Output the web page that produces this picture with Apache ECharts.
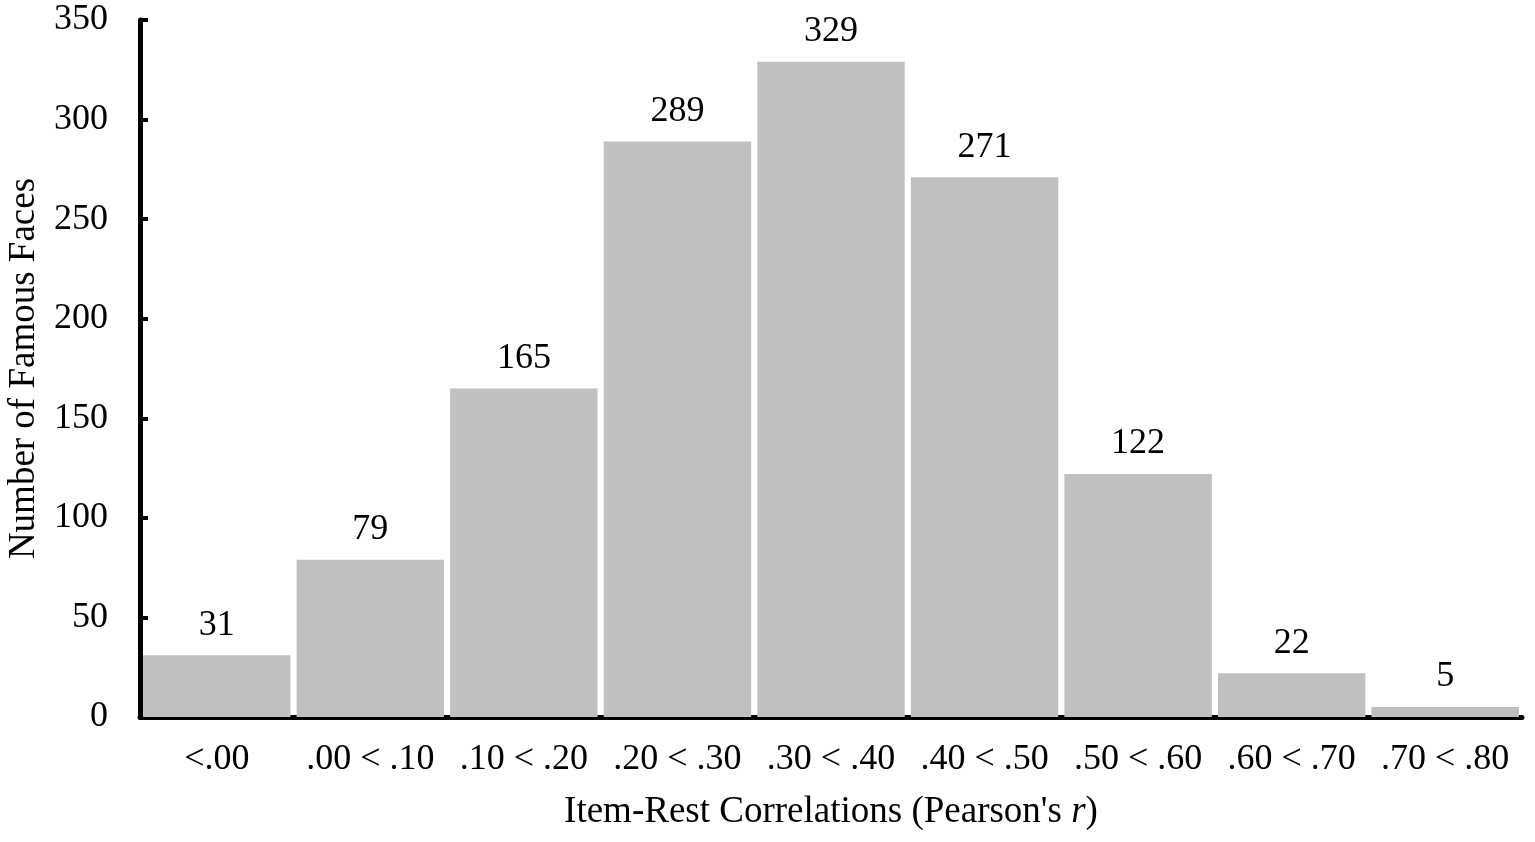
<!DOCTYPE html>
<html>
<head>
<meta charset="utf-8">
<script src="https://cdn.jsdelivr.net/npm/echarts@6/dist/echarts.min.js"></script>
<style>html,body{margin:0;padding:0;background:#fff}#c{width:1535px;height:842px}</style>
</head>
<body>
<div id="c"></div>
<script>
var categories = ['<.00', '.00 < .10', '.10 < .20', '.20 < .30', '.30 < .40', '.40 < .50', '.50 < .60', '.60 < .70', '.70 < .80'];
var counts = [31, 79, 165, 289, 329, 271, 122, 22, 5];
var yTicks = [0, 50, 100, 150, 200, 250, 300, 350];

var font = 'Liberation Serif';
var chart = echarts.init(document.getElementById('c'));
chart.setOption({
  animation: false,
  backgroundColor: '#fff',
  grid: { left: 140, right: 13, top: 20, bottom: 125, containLabel: false, outerBoundsMode: 'none' },
  xAxis: {
    type: 'category',
    data: categories,
    name: "Item-Rest Correlations (Pearson's {i|r})",
    nameLocation: 'middle',
    nameGap: 77,
    nameTextStyle: {
      fontFamily: font, fontSize: 37, color: '#000',
      rich: { i: { fontFamily: font, fontSize: 37, fontStyle: 'italic', color: '#000' } }
    },
    axisLine: { lineStyle: { color: '#000', width: 5 } },
    axisTick: { show: false },
    axisLabel: { fontFamily: font, fontSize: 36, color: '#000', margin: 25, interval: 0 },
    splitLine: { show: false }
  },
  yAxis: {
    type: 'value',
    min: 0, max: 350, interval: 50,
    name: 'Number of Famous Faces',
    nameLocation: 'middle',
    nameGap: 97,
    nameTextStyle: { fontFamily: font, fontSize: 37, color: '#000' },
    axisLine: { show: true, lineStyle: { color: '#000', width: 5 } },
    axisTick: { show: true, inside: true, length: 8, lineStyle: { color: '#000', width: 4 } },
    axisLabel: {
      fontFamily: font, fontSize: 36, color: '#000', margin: 32,
      formatter: function (v) { return yTicks.indexOf(v) >= 0 ? String(v) : ''; }
    },
    splitLine: { show: false }
  },
  series: [{
    type: 'bar',
    data: counts,
    barCategoryGap: '4%',
    itemStyle: { color: '#c0c0c0' },
    label: {
      show: true, position: 'top', distance: 12,
      fontFamily: font, fontSize: 36, color: '#000'
    }
  }]
});
</script>
</body>
</html>
